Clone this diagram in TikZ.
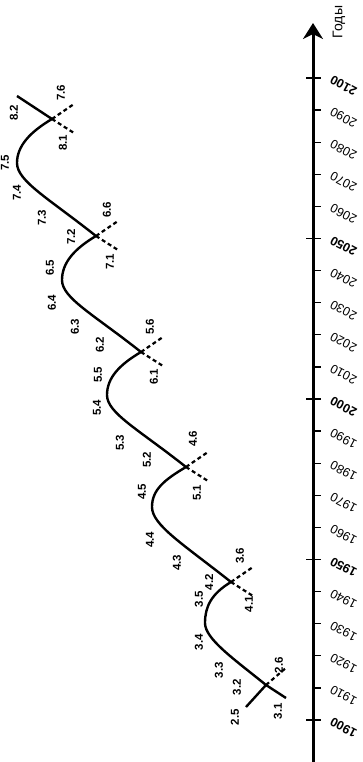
\documentclass[tikz,border=0pt]{standalone}
\usepackage{fontspec}
\setmainfont{Liberation Sans}
\usetikzlibrary{arrows.meta,calc}
\begin{document}
\begin{tikzpicture}[x=1pt,y=-1pt,
  curve/.style={line width=2.4pt, line join=round},
  ext/.style={line width=2.2pt, dash pattern=on 4pt off 3pt},
  lab/.style={font=\bfseries\fontsize{11.5}{12}\selectfont, rotate=90, inner sep=0pt},
  yr/.style={font=\fontsize{12.5}{13}\selectfont, rotate=152, anchor=east, inner sep=0pt},
  yrb/.style={yr, font=\bfseries\fontsize{12.5}{13}\selectfont},
]
\useasboundingbox (0,0) rectangle (362,762);
% axis
\coordinate (ax0) at (313,762);
\coordinate (ax1) at (313,23);
\draw[line width=3pt, -{Stealth[length=16pt,width=20pt,inset=5pt]}] (ax0) -- (ax1);
\node[font=\fontsize{14}{15}\selectfont, rotate=90, inner sep=0pt] (years) at (339,22) {Годы};
\foreach \i in {0,...,20}{
  \pgfmathsetmacro\yy{720-32.1*\i}
  \pgfmathtruncatemacro\yv{1900+10*\i}
  \pgfmathtruncatemacro\m{mod(\i,5)}
  \ifnum\m=0
    \draw[line width=1.7pt] (306,\yy) -- (321,\yy);
    \node[yrb] (y\i) at (331,\yy+1) {\yv};
  \else
    \draw[line width=1.3pt] (313,\yy) -- (321,\yy);
    \node[yr] (y\i) at (331,\yy+1) {\yv};
  \fi
}
% curve points
\coordinate (s0) at (246,707);
\coordinate (e3) at (286,698);
\coordinate (A3) at (266,685);
\coordinate (L3) at (205,623);
\coordinate (A4) at (231,582);
\coordinate (L4) at (152,507);
\coordinate (A5) at (186,467);
\coordinate (L5) at (107,395);
\coordinate (A6) at (141,352);
\coordinate (L6) at (62,280);
\coordinate (A7) at (96,236);
\coordinate (L7) at (17,163);
\coordinate (A8) at (52,119);
\coordinate (e8) at (17,96);
\coordinate (f3) at (287,667);
\draw[curve] (s0) -- (A3);
\draw[ext] (A3) -- (f3);
\draw[curve] (e3) -- (A3)
  .. controls ($(A3)+(-32,-26)$) and ($(L3)+(0,16)$) .. (L3)
  .. controls ($(L3)+(0,-16)$) and ($(A4)+(-20,12)$) .. (A4)
  .. controls ($(A4)+(-48,-38)$) and ($(L4)+(0,18)$) .. (L4)
  .. controls ($(L4)+(0,-17)$) and ($(A5)+(-22,13)$) .. (A5)
  .. controls ($(A5)+(-48,-38)$) and ($(L5)+(0,18)$) .. (L5)
  .. controls ($(L5)+(0,-17)$) and ($(A6)+(-22,13)$) .. (A6)
  .. controls ($(A6)+(-48,-38)$) and ($(L6)+(0,18)$) .. (L6)
  .. controls ($(L6)+(0,-17)$) and ($(A7)+(-22,13)$) .. (A7)
  .. controls ($(A7)+(-48,-38)$) and ($(L7)+(0,18)$) .. (L7)
  .. controls ($(L7)+(0,-17)$) and ($(A8)+(-22,13)$) .. (A8);
\draw[curve] (A8) -- (e8);
\foreach \k in {4,...,8}{
  \coordinate (f\k) at ($(A\k)+(22,-15)$);
  \coordinate (b\k) at ($(A\k)+(22,14)$);
  \draw[ext] (A\k) -- (f\k);
  \draw[ext] (A\k) -- (b\k);
}
% labels
\foreach \n/\x/\y in {
  2.5/235/717, 3.1/278/711, 2.6/279/665,
  3.2/237/687, 3.3/219/670, 3.4/199/642, 3.5/199/599, 3.6/240/556,
  4.1/249/604, 4.2/209/582, 4.3/177/563, 4.4/150/540, 4.5/142/492, 4.6/193/439,
  5.1/197/493, 5.2/147/460, 5.3/120/443, 5.4/97/408, 5.5/98/375, 5.6/150/327,
  6.1/154/377, 6.2/100/345, 6.3/75/327, 6.4/52/303, 6.5/50/268, 6.6/107/210,
  7.1/110/262, 7.2/71/237, 7.3/42/218, 7.4/17/193, 7.5/5/163, 7.6/61/93,
  8.1/63/143, 8.2/14/113}{
  \node[lab] (l\n) at (\x,\y) {\n};
}
\end{tikzpicture}
\end{document}
